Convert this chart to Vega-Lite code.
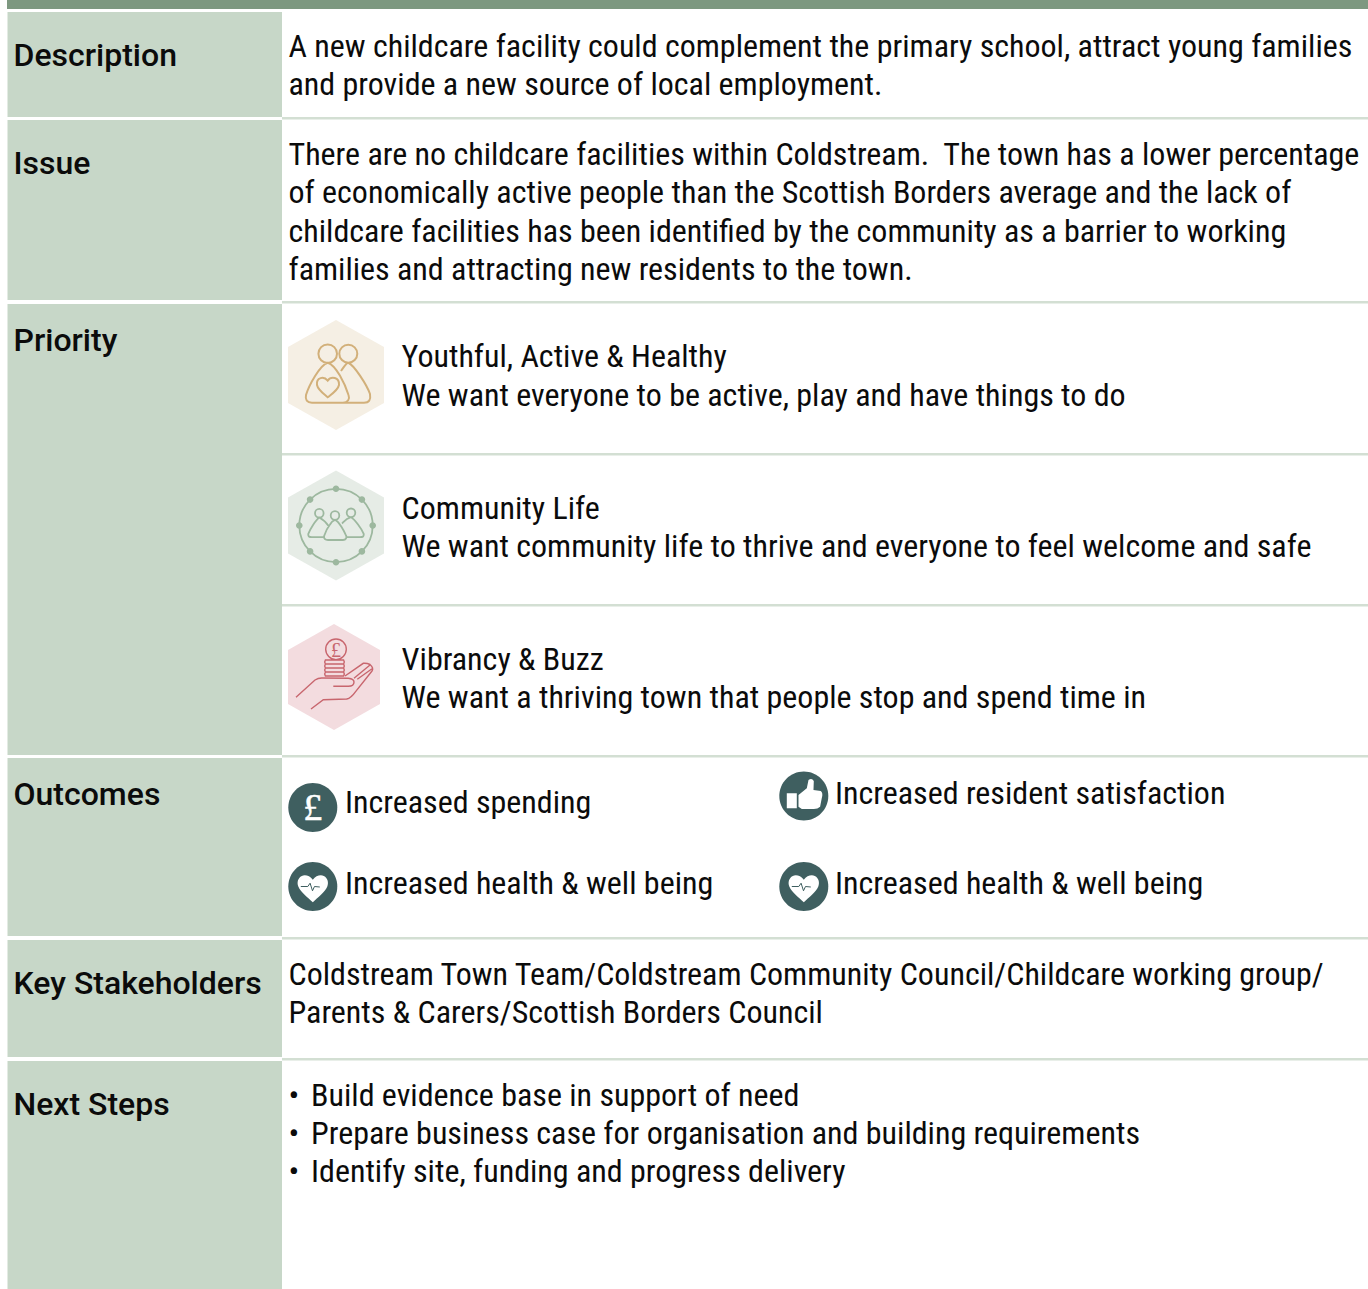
{"$schema":"https://vega.github.io/schema/vega-lite/v6.json","width":1368,"height":1289,"padding":0,"autosize":{"type":"fit","contains":"padding"},"background":"white","config":{"view":{"stroke":null}},
"datasets":{
"cells":[{"part":"bar","x":7,"x2":1368,"y":0,"y2":9},{"part":"head","x":7.5,"x2":282,"y":12,"y2":117},{"part":"head","x":7.5,"x2":282,"y":120,"y2":300},{"part":"head","x":7.5,"x2":282,"y":304,"y2":755},{"part":"head","x":7.5,"x2":282,"y":758,"y2":936},{"part":"head","x":7.5,"x2":282,"y":940,"y2":1057},{"part":"head","x":7.5,"x2":282,"y":1061,"y2":1289},{"part":"rule","x":282,"x2":1368,"y":117,"y2":119.5},{"part":"rule","x":282,"x2":1368,"y":301,"y2":303.5},{"part":"rule","x":282,"x2":1368,"y":453,"y2":455.5},{"part":"rule","x":282,"x2":1368,"y":604,"y2":606.5},{"part":"rule","x":282,"x2":1368,"y":755,"y2":757.5},{"part":"rule","x":282,"x2":1368,"y":937,"y2":939.5},{"part":"rule","x":282,"x2":1368,"y":1058,"y2":1060.5}],
"heads":[{"t":"Description","x":13.5,"y":66},{"t":"Issue","x":13.5,"y":174},{"t":"Priority","x":13.5,"y":351},{"t":"Outcomes","x":13.5,"y":805},{"t":"Key Stakeholders","x":13.5,"y":994},{"t":"Next Steps","x":13.5,"y":1115}],
"body":[{"t":"A new childcare facility could complement the primary school, attract young families","x":288.5,"y":57},{"t":"and provide a new source of local employment.","x":288.5,"y":95},{"t":"There are no childcare facilities within Coldstream.\u00a0 The town has a lower percentage","x":288.5,"y":165},{"t":"of economically active people than the Scottish Borders average and the lack of","x":288.5,"y":203},{"t":"childcare facilities has been identified by the community as a barrier to working","x":288.5,"y":242},{"t":"families and attracting new residents to the town.","x":288.5,"y":280},{"t":"Youthful, Active & Healthy","x":401.6,"y":367},{"t":"We want everyone to be active, play and have things to do","x":401.6,"y":406},{"t":"Community Life","x":401.6,"y":519},{"t":"We want community life to thrive and everyone to feel welcome and safe","x":401.6,"y":557},{"t":"Vibrancy & Buzz","x":401.6,"y":670},{"t":"We want a thriving town that people stop and spend time in","x":401.6,"y":708},{"t":"Increased spending","x":345,"y":813},{"t":"Increased resident satisfaction","x":835,"y":804},{"t":"Increased health & well being","x":345,"y":894},{"t":"Increased health & well being","x":835,"y":894},{"t":"Coldstream Town Team/Coldstream Community Council/Childcare working group/","x":288.5,"y":985},{"t":"Parents & Carers/Scottish Borders Council","x":288.5,"y":1023},{"t":"•","x":288.5,"y":1106},{"t":"Build evidence base in support of need","x":311,"y":1106},{"t":"•","x":288.5,"y":1144},{"t":"Prepare business case for organisation and building requirements","x":311,"y":1144},{"t":"•","x":288.5,"y":1182},{"t":"Identify site, funding and progress delivery","x":311,"y":1182}]
},
"encoding":{"x":{"field":"x","type":"quantitative","scale":{"domain":[0,1368]},"axis":null},"y":{"field":"y","type":"quantitative","scale":{"domain":[0,1289],"reverse":true},"axis":null}},
"layer":[
{"data":{"name":"cells"},"mark":{"type":"rect"},"encoding":{"x2":{"field":"x2"},"y2":{"field":"y2"},"color":{"field":"part","type":"nominal","legend":null,"scale":{"domain":["bar","head","rule"],"range":["#7d9880","#c7d7c8","#d3dfd3"]}}}},
{"data":{"values":[{"x":336,"y":375}]},"mark":{"type":"point","filled":true,"opacity":1,"size":4,"color":"#f5efe4","shape":"M0,-55L48,-28L48,28L0,55L-48,28L-48,-28Z"}},
{"data":{"values":[{"x":336,"y":525.5}]},"mark":{"type":"point","filled":true,"opacity":1,"size":4,"color":"#e6ece6","shape":"M0,-55L48,-28L48,28L0,55L-48,28L-48,-28Z"}},
{"data":{"values":[{"x":334,"y":677}]},"mark":{"type":"point","filled":true,"opacity":1,"size":4,"color":"#f3dcdf","shape":"M0,-53L46,-27L46,27L0,53L-46,27L-46,-27Z"}},
{"data":{"values":[{"x":336,"y":375}]},"mark":{"type":"point","filled":false,"opacity":1,"size":4,"stroke":"#d2b07a","strokeWidth":2,"shape":"M-17.6,-21.3a9.3,9.3 0 1 0 18.6,0a9.3,9.3 0 1 0 -18.6,0M3.3,-21.3a9,9 0 1 0 18,0a9,9 0 1 0 -18,0M-8.3,-12.3C-16,-10 -27,10 -30,20C-31,25 -29,27.7 -24,27.7L7,27.7C12,27.5 14,24 12.5,20C9,9 0,-10 -8.3,-12.3ZM5,-4C8,-8 10,-12 12.3,-12.3C18,-10 31,10 34,19C35,25 33,27.7 28,27.7L5,27.7M-8.3,5.7C-12,1 -20,2 -19,10C-18,15 -12,19 -8.3,22.3C-4,19 2,15 3,10C3.5,2 -5,1 -8.3,5.7Z"}},
{"data":{"values":[{"x":336,"y":525.5}]},"mark":{"type":"point","filled":false,"opacity":1,"size":4,"stroke":"#9db89f","strokeWidth":1.8,"shape":"M-36.7,0a36.7,36.7 0 1 0 73.4,0a36.7,36.7 0 1 0 -73.4,0M-21,-12.3a4.3,4.3 0 1 0 8.6,0a4.3,4.3 0 1 0 -8.6,0M-5.3,-10a4.3,4.3 0 1 0 8.6,0a4.3,4.3 0 1 0 -8.6,0M10.7,-12.7a4.3,4.3 0 1 0 8.6,0a4.3,4.3 0 1 0 -8.6,0M-16.7,-8C-20,-6 -26,4 -27.7,8.3C-28,11 -27,11.7 -24,11.7L-11,11.7M-6,-1C-10,4 -11,8 -12,11C-12,14 -10,14.5 -8,14.5L7,14.5C10,14.5 11,12 10,10C8,5 3,-4 -1,-5.7C-3,-5 -5,-3 -6,-1ZM15,-8.3C19,-6 26,4 27.7,8.3C28,11 27,11.7 24,11.7L10,11.7M6,-2C8,-4 10,-7 15,-8.3M-16.7,-8C-13,-6 -9,-2 -7,1"}},
{"data":{"values":[{"x":336,"y":525.5}]},"mark":{"type":"point","filled":true,"opacity":1,"size":4,"color":"#9db89f","shape":"M-3.3,-36.7a3.3,3.3 0 1 0 6.6,0a3.3,3.3 0 1 0 -6.6,0M-3.3,36.7a3.3,3.3 0 1 0 6.6,0a3.3,3.3 0 1 0 -6.6,0M-40,0a3.3,3.3 0 1 0 6.6,0a3.3,3.3 0 1 0 -6.6,0M33.4,0a3.3,3.3 0 1 0 6.6,0a3.3,3.3 0 1 0 -6.6,0M-29.2,-25.9a3.3,3.3 0 1 0 6.6,0a3.3,3.3 0 1 0 -6.6,0M22.6,-25.9a3.3,3.3 0 1 0 6.6,0a3.3,3.3 0 1 0 -6.6,0M-29.2,25.9a3.3,3.3 0 1 0 6.6,0a3.3,3.3 0 1 0 -6.6,0M22.6,25.9a3.3,3.3 0 1 0 6.6,0a3.3,3.3 0 1 0 -6.6,0"}},
{"data":{"values":[{"x":334,"y":677}]},"mark":{"type":"point","filled":false,"opacity":1,"size":4,"stroke":"#c8666e","strokeWidth":1.4,"shape":"M-8.3,-27.7a10.3,10.3 0 1 0 20.6,0a10.3,10.3 0 1 0 -20.6,0M-8.6,-17L9.6,-17Q11,-15 9.6,-13L-8.6,-13Q-10,-15 -8.6,-17ZM-8.6,-13L9.6,-13Q11,-11 9.6,-9L-8.6,-9Q-10,-11 -8.6,-13ZM-8.6,-9L9.6,-9Q11,-7 9.6,-5L-8.6,-5Q-10,-7 -8.6,-9ZM-8.6,-5L9.6,-5Q11,-3 9.6,-1L-8.6,-1Q-10,-3 -8.6,-5ZM-38,20.3L-19,3Q-16,1 -12.3,1L14.3,1.3Q20,2 20,5Q20,9.3 14.3,9.3L-0.7,9.3M-23,32L-10.7,22.7L12.7,22Q17,21 21,15.3L38,-6Q40,-9 36,-12.5Q33,-14 29.3,-13.7L11,-1M20,1.3L36,-12M23.3,2.3L38.7,-8.7"}},
{"data":{"values":[{"x":336,"y":684,"t":"£"}]},"mark":{"type":"text","font":"Liberation Serif","fontSize":20,"align":"center","baseline":"alphabetic","color":"#c8666e","dy":-27},"encoding":{"text":{"field":"t"}}},
{"data":{"values":[{"x":312.8,"y":807.5},{"x":803.8,"y":796},{"x":312.8,"y":886.5},{"x":803.8,"y":886.5}]},"mark":{"type":"point","filled":true,"opacity":1,"size":4,"color":"#3f5f60","shape":"M-24.5,0a24.5,24.5 0 1 0 49,0a24.5,24.5 0 1 0 -49,0Z"}},
{"data":{"values":[{"x":312.8,"y":886.5},{"x":803.8,"y":886.5}]},"mark":{"type":"point","filled":true,"opacity":1,"size":4,"color":"#ffffff","shape":"M0,-6.7C3,-11 8,-12 11,-10.5C15,-8.5 16,-4 14.5,0C12,6 5,11 0,15.7C-5,11 -12,6 -14.5,0C-16,-4 -15,-8.5 -11,-10.5C-8,-12 -3,-11 0,-6.7Z"}},
{"data":{"values":[{"x":312.8,"y":886.5},{"x":803.8,"y":886.5}]},"mark":{"type":"point","filled":false,"opacity":1,"size":4,"stroke":"#3f5f60","strokeWidth":1,"shape":"M-12,0L-5,0L-2.7,-3.3L-0.3,4.3L1.7,0L7,0.5"}},
{"data":{"values":[{"x":803.8,"y":796}]},"mark":{"type":"point","filled":true,"opacity":1,"size":4,"color":"#ffffff","shape":"M-17,-2.7L-7,-2.7L-7,12.3L-17,12.3ZM-5.3,-1L3,-7.7L4.7,-16Q8,-18.5 10,-15L9.7,-6L17,-5Q19.5,-3 18,2L16.3,10.7Q14,13 10,13L-2,13L-5.3,10.7Z"}},
{"data":{"values":[{"x":312.8,"y":819.5,"t":"£"}]},"mark":{"type":"text","font":"Liberation Serif","fontSize":38,"align":"center","baseline":"alphabetic","color":"#ffffff","stroke":"#ffffff","strokeWidth":0.5},"encoding":{"text":{"field":"t"}}},
{"data":{"name":"heads"},"mark":{"type":"text","font":"Roboto","fontSize":32,"fontWeight":500,"align":"left","baseline":"alphabetic","color":"#0b0b0b"},"encoding":{"text":{"field":"t"}}},
{"data":{"name":"body"},"mark":{"type":"text","font":"Roboto Condensed, Liberation Sans Narrow, Roboto","fontSize":32,"align":"left","baseline":"alphabetic","color":"#0b0b0b"},"encoding":{"text":{"field":"t"}}}
]}
